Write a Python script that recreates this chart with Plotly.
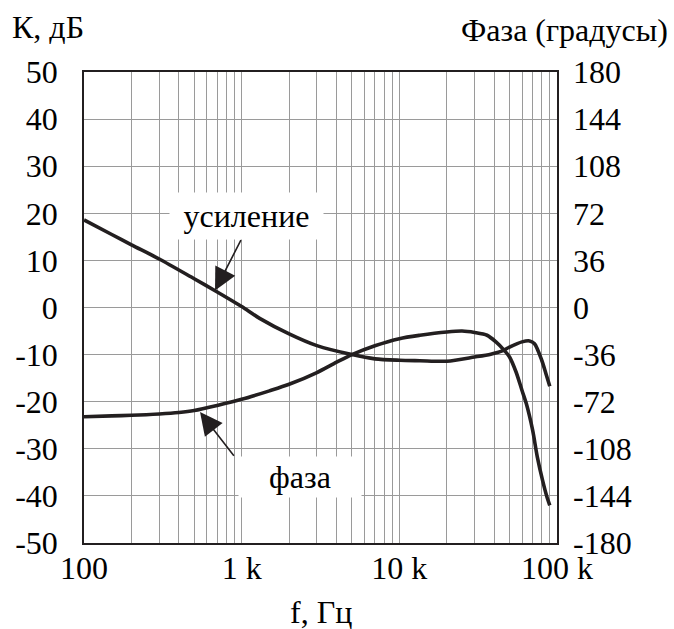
import plotly.graph_objects as go

# ---- data ----
gain_f = [100, 150, 200, 300, 500, 700, 1000, 1300, 2000, 3000, 5000, 7000, 10000,
          13500, 20000, 30000, 38000, 45000, 50000, 60000, 67000, 72000, 80000, 85000, 90000]
gain_db = [18.6, 15.5, 13.3, 10.3, 6.1, 3.3, 0.2, -2.3, -5.6, -8.1, -10.0, -10.9, -11.2,
           -11.3, -11.4, -10.5, -9.9, -9.2, -8.4, -7.3, -7.1, -7.7, -11.2, -14.0, -16.7]

phase_f = [100, 150, 200, 300, 400, 500, 700, 1000, 1500, 2000, 3000, 4000, 5000, 7000,
           10000, 13500, 20000, 25000, 30000, 36000, 41000, 46000, 50000, 55000, 60000,
           64000, 70000, 75000, 81000, 86000, 90000]
phase_deg = [-83.5, -82.8, -82.4, -81.4, -80.3, -78.8, -74.9, -70.2, -63.7, -58.7, -49.7,
             -41.8, -36.0, -29.2, -23.8, -21.2, -18.7, -18.0, -19.1, -21.2, -26.3, -32.4,
             -37.8, -49.3, -63.4, -73.8, -93.6, -114.1, -132.1, -144.0, -151.2]

x_major = [100, 1000, 10000, 100000]
x_major_text = ["100", "1 k", "10 k", "100 k"]
y_left = [50, 40, 30, 20, 10, 0, -10, -20, -30, -40, -50]
y_right = [180, 144, 108, 72, 36, 0, -36, -72, -108, -144, -180]

SIZE = 32
TXT = dict(family="Liberation Serif", size=SIZE, color="#000000")
INK = "#231f20"
GRID = "#9a9a9a"

x_grid = []
x_text = []
for d in range(2, 5):
    for m in range(1, 10):
        v = m * 10 ** d
        x_grid.append(v)
        x_text.append(x_major_text[x_major.index(v)] if v in x_major else "")
x_grid.append(100000)
x_text.append("100 k")

fig = go.Figure()
fig.add_trace(go.Scatter(x=gain_f, y=gain_db, mode="lines",
                         line=dict(color=INK, width=3.6, shape="spline", smoothing=0.8),
                         showlegend=False, hoverinfo="skip"))
fig.add_trace(go.Scatter(x=phase_f, y=phase_deg, mode="lines", yaxis="y2",
                         line=dict(color=INK, width=3.6, shape="spline", smoothing=0.8),
                         showlegend=False, hoverinfo="skip"))

fig.update_layout(
    width=674, height=629,
    margin=dict(l=84, r=117, t=72, b=86),
    paper_bgcolor="white", plot_bgcolor="white",
    xaxis=dict(type="log", range=[2, 5], tickmode="array", tickvals=x_grid, ticktext=x_text,
               showgrid=True, gridcolor=GRID, gridwidth=1, zeroline=False,
               showline=True, linecolor=INK, linewidth=1.5, mirror=True,
               ticks="", ticklabelstandoff=-4, tickfont=TXT),
    yaxis=dict(range=[-50, 50], tickmode="array", tickvals=y_left,
               ticktext=[str(v) for v in y_left],
               showgrid=True, gridcolor=GRID, gridwidth=1, zeroline=False,
               showline=True, linecolor=INK, linewidth=1.5, mirror=True,
               ticks="", ticklabelstandoff=18, tickfont=TXT),
    yaxis2=dict(range=[-180, 180], overlaying="y", side="right", tickmode="array",
                tickvals=y_right, ticktext=[str(v) for v in y_right],
                showgrid=False, zeroline=False, showline=False,
                ticks="", ticklabelstandoff=15, tickfont=TXT),
)

fig.add_annotation(x=3.056, y=19.5, xref="x", yref="y", text="усиление", font=TXT,
                   showarrow=False, bgcolor="white", width=151, height=44, xshift=-4)
fig.add_annotation(x=3.370, y=-35.9, xref="x", yref="y", text="фаза", font=TXT,
                   showarrow=False, bgcolor="white", width=120, height=38)

fig.add_annotation(x=2.831, y=3.6, xref="x", yref="y", ax=3.0, ay=14.6, axref="x", ayref="y",
                   text="", showarrow=True, arrowhead=2, arrowsize=2.8, arrowwidth=1.6,
                   arrowcolor=INK, standoff=0)
fig.add_annotation(x=2.736, y=-22.2, xref="x", yref="y", ax=2.958, ay=-31.8, axref="x", ayref="y",
                   text="", showarrow=True, arrowhead=2, arrowsize=2.8, arrowwidth=1.6,
                   arrowcolor=INK, standoff=0)

fig.add_annotation(x=-74 / 473, y=1 + 45 / 471, xref="paper", yref="paper", text="К, дБ", font=TXT,
                   showarrow=False, xanchor="left", yanchor="middle")
fig.add_annotation(x=1 + 113 / 473, y=1 + 42 / 471, xref="paper", yref="paper", text="Фаза (градусы)",
                   font=TXT, showarrow=False, xanchor="right", yanchor="middle")
fig.add_annotation(x=0.5, y=-69 / 471, xref="paper", yref="paper", text="f, Гц", font=TXT,
                   showarrow=False, xanchor="center", yanchor="middle")

fig.write_html("out.html")
